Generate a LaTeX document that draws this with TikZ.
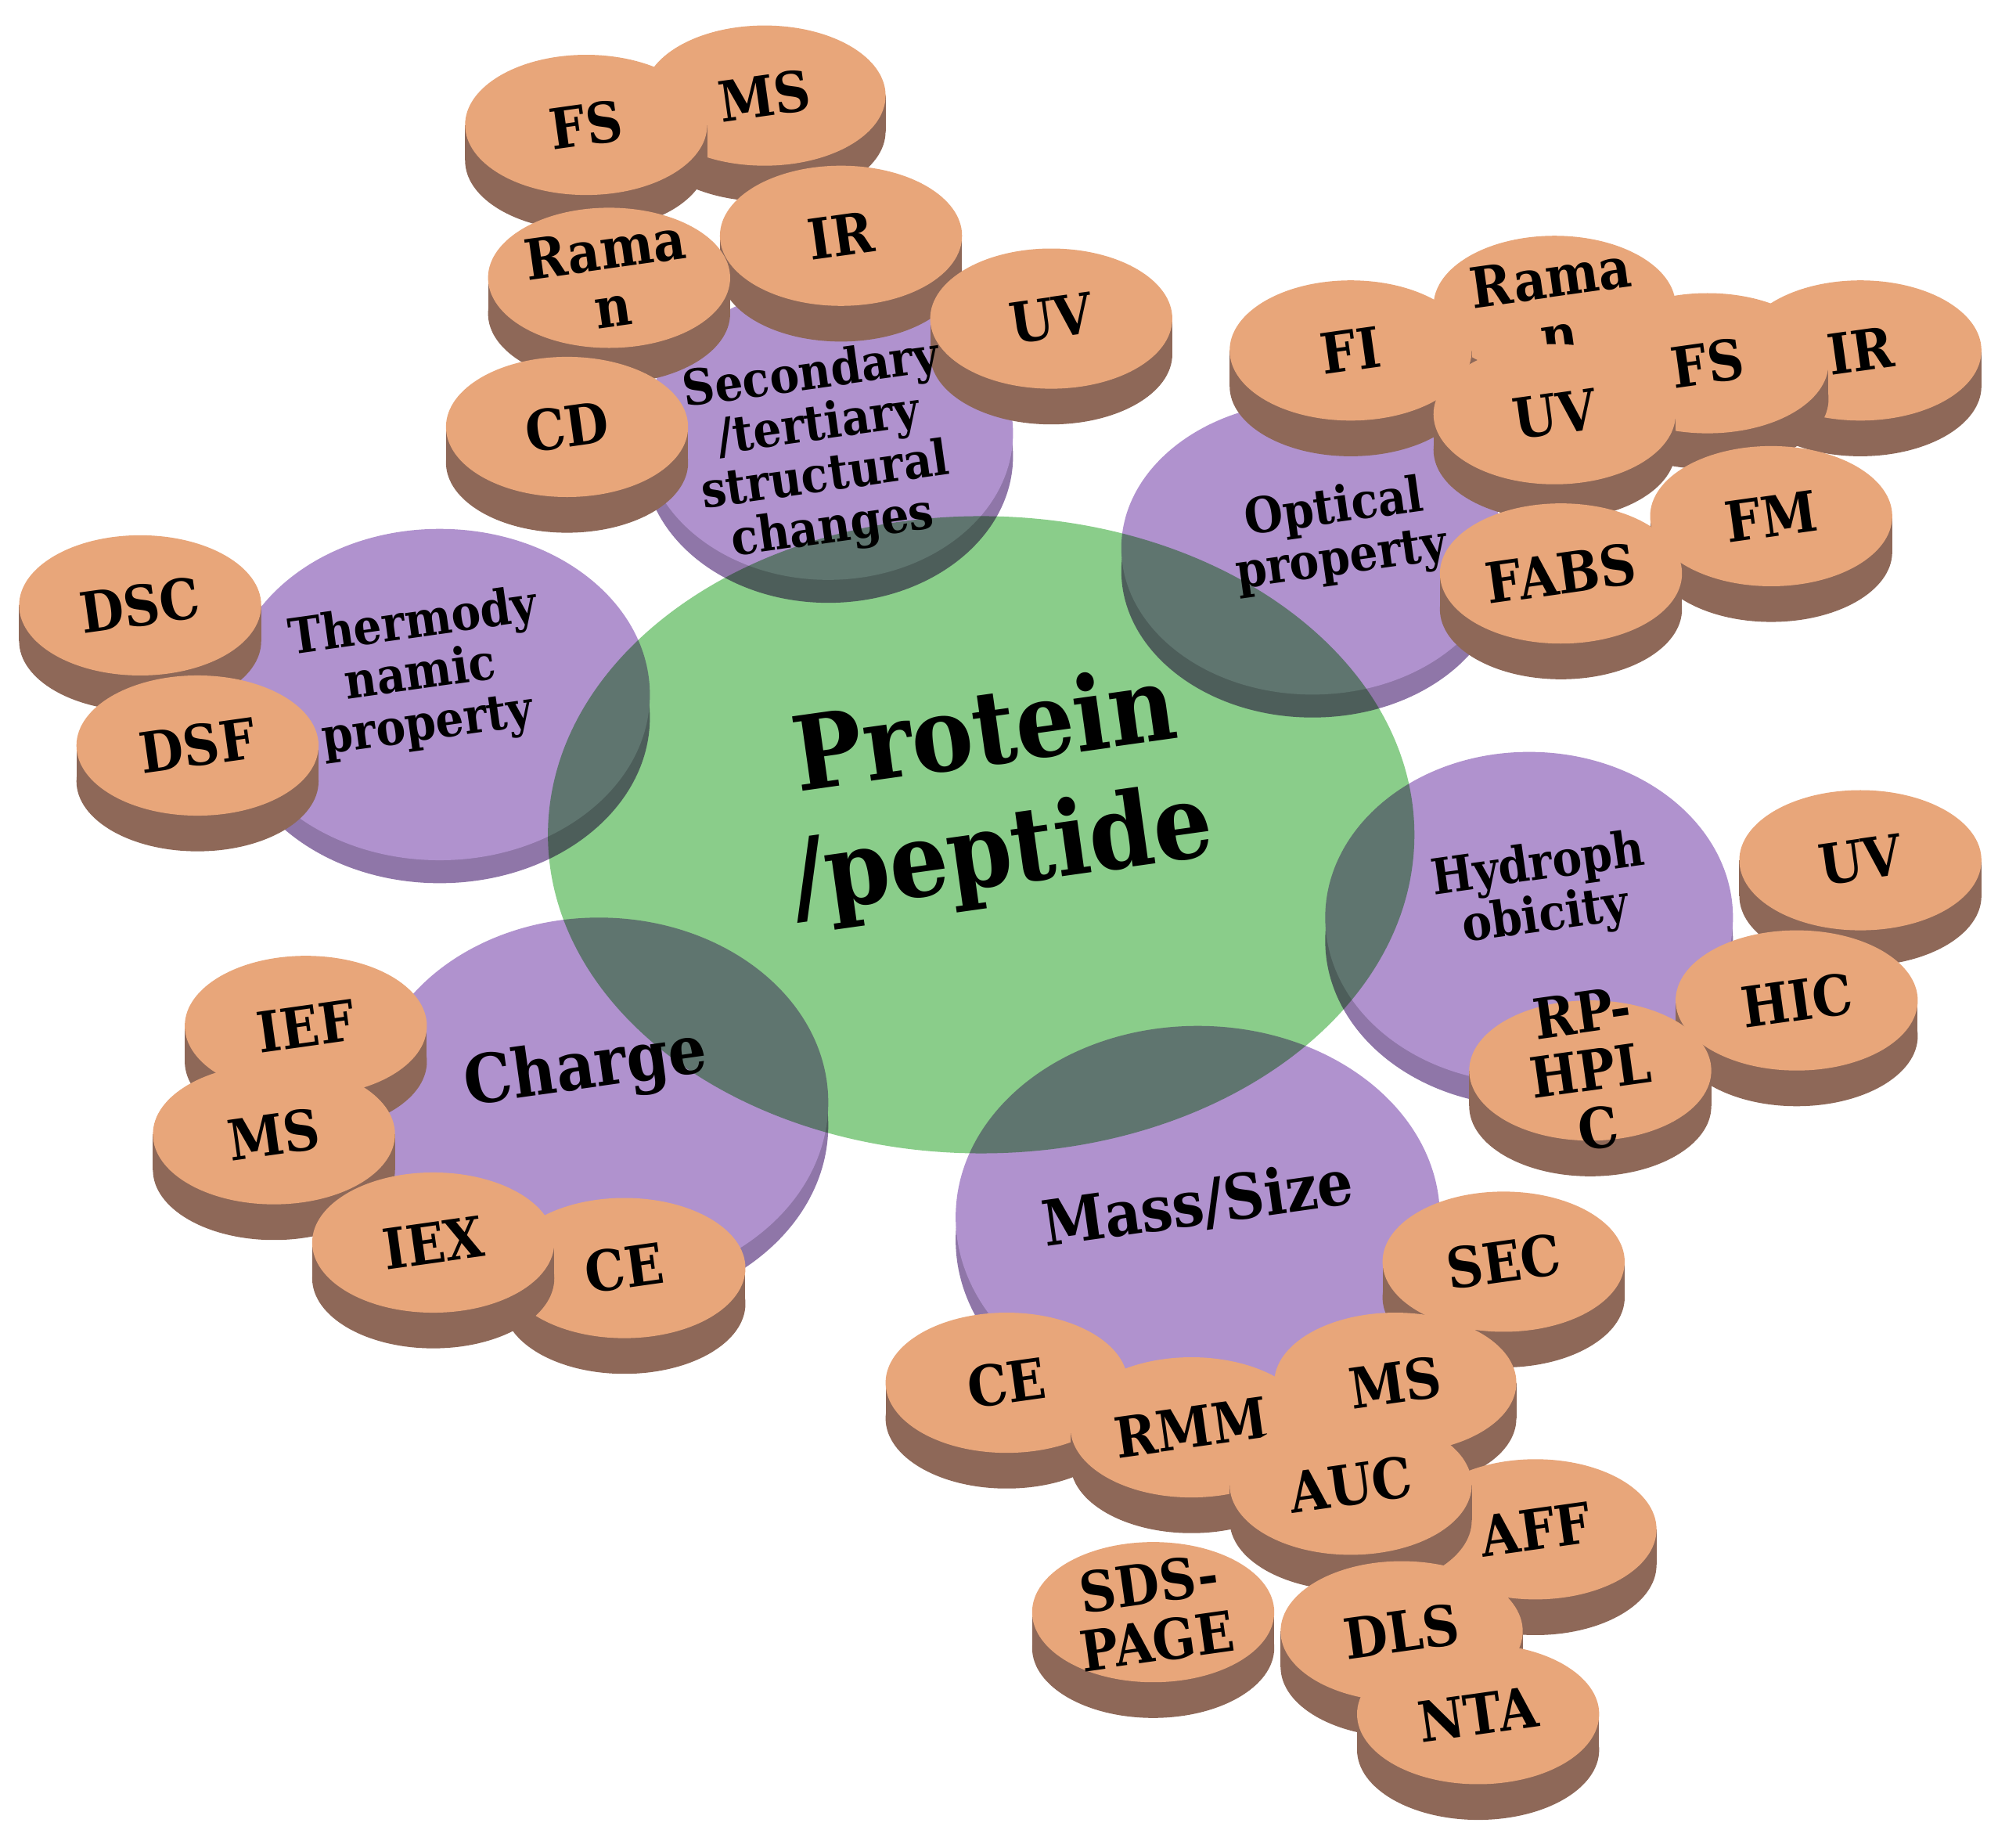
\documentclass[tikz,border=0pt]{standalone}
\usepackage{fontspec}
\setmainfont{DejaVu Serif Condensed}
\begin{document}
\begin{tikzpicture}[x=0.1mm,y=-0.1mm,
  disclab/.style={font=\bfseries\fontsize{12.5}{13}\selectfont,align=center,rotate=8,inner sep=0pt},
  catlab/.style={font=\bfseries\fontsize{11}{11.5}\selectfont,align=center,rotate=8,inner sep=0pt},
  mainlab/.style={font=\bfseries\fontsize{23}{27}\selectfont,align=center,rotate=8,inner sep=0pt}]
\useasboundingbox (0,0) rectangle (1568,1450);
\fill[white] (0,0) rectangle (1568,1450);
\definecolor{disctop}{HTML}{E8A67A}
\definecolor{discside}{HTML}{8E6858}
\definecolor{purp}{HTML}{B092CE}
\definecolor{purpside}{HTML}{8F76A8}
\definecolor{grn}{HTML}{8ACD8A}
\newcommand\mydisc[4]{%
  \fill[discside] (#2,#3+28) ellipse (95 and 55);
  \fill[discside] (#2-95,#3) rectangle (#2+95,#3+28);
  \fill[disctop] (#2,#3) ellipse (95 and 55);
  \node[disclab] (#1) at (#2,#3) {#4};}
\newcommand\mycat[5]{%
  \fill[purpside] (#2,#3+18) ellipse (#4 and #5);
  \fill[purp] (#2,#3) ellipse (#4 and #5);
  \coordinate (#1) at (#2,#3);}
% categories
\mycat{sec}{650}{340}{145}{115}
\mycat{opt}{1030}{430}{150}{115}
\mycat{thermo}{345}{545}{165}{130}
\mycat{hyd}{1200}{720}{160}{130}
\mycat{chg}{470}{865}{180}{145}
\mycat{mass}{940}{955}{190}{150}
% central
\begin{scope}[blend mode=multiply]
\fill[grn] (770,655) ellipse (340 and 250);
\end{scope}
% discs
\mydisc{ms1}{600}{75}{MS}
\mydisc{fs1}{460}{98}{FS}
\mydisc{ir1}{660}{185}{IR}
\mydisc{ram1}{478}{218}{Rama\\n}
\mydisc{uv1}{825}{250}{UV}
\mydisc{cd}{445}{335}{CD}
\mydisc{ram2}{1220}{240}{Rama\\n}
\mydisc{ir2}{1460}{275}{IR}
\mydisc{fi}{1060}{275}{FI}
\mydisc{fs2}{1340}{285}{FS}
\mydisc{uv2}{1220}{325}{UV}
\mydisc{fm}{1390}{405}{FM}
\mydisc{fabs}{1225}{450}{FABS}
\mydisc{dsc}{110}{475}{DSC}
\mydisc{dsf}{155}{585}{DSF}
\mydisc{uv3}{1460}{675}{UV}
\mydisc{hic}{1410}{785}{HIC}
\mydisc{rp}{1248}{840}{RP-\\HPL\\C}
\mydisc{ief}{240}{805}{IEF}
\mydisc{ms2}{215}{890}{MS}
\mydisc{ce1}{490}{995}{CE}
\mydisc{iex}{340}{975}{IEX}
\mydisc{sec2}{1180}{990}{SEC}
\mydisc{ce2}{790}{1085}{CE}
\mydisc{ms3}{1095}{1085}{MS}
\mydisc{rmm}{935}{1120}{RMM}
\mydisc{aff}{1205}{1200}{AFF}
\mydisc{auc}{1060}{1165}{AUC}
\mydisc{sds}{905}{1265}{SDS-\\PAGE}
\mydisc{dls}{1100}{1280}{DLS}
\mydisc{nta}{1160}{1345}{NTA}
% labels
\node[catlab] (secl) at (645,355) {Secondary\\/tertiary\\structural\\changes};
\node[catlab] (optl) at (1050,420) {Optical\\property};
\node[catlab] (thl) at (330,530) {Thermody\\namic\\property};
\node[catlab] (hydl) at (1210,700) {Hydroph\\obicity};
\node[catlab,font=\bfseries\fontsize{15}{15}\selectfont] (chgl) at (460,840) {Charge};
\node[catlab,font=\bfseries\fontsize{14}{14}\selectfont] (massl) at (940,945) {Mass/Size};
\node[mainlab] (prot) at (780,625) {Protein\\/peptide};
\end{tikzpicture}
\end{document}
